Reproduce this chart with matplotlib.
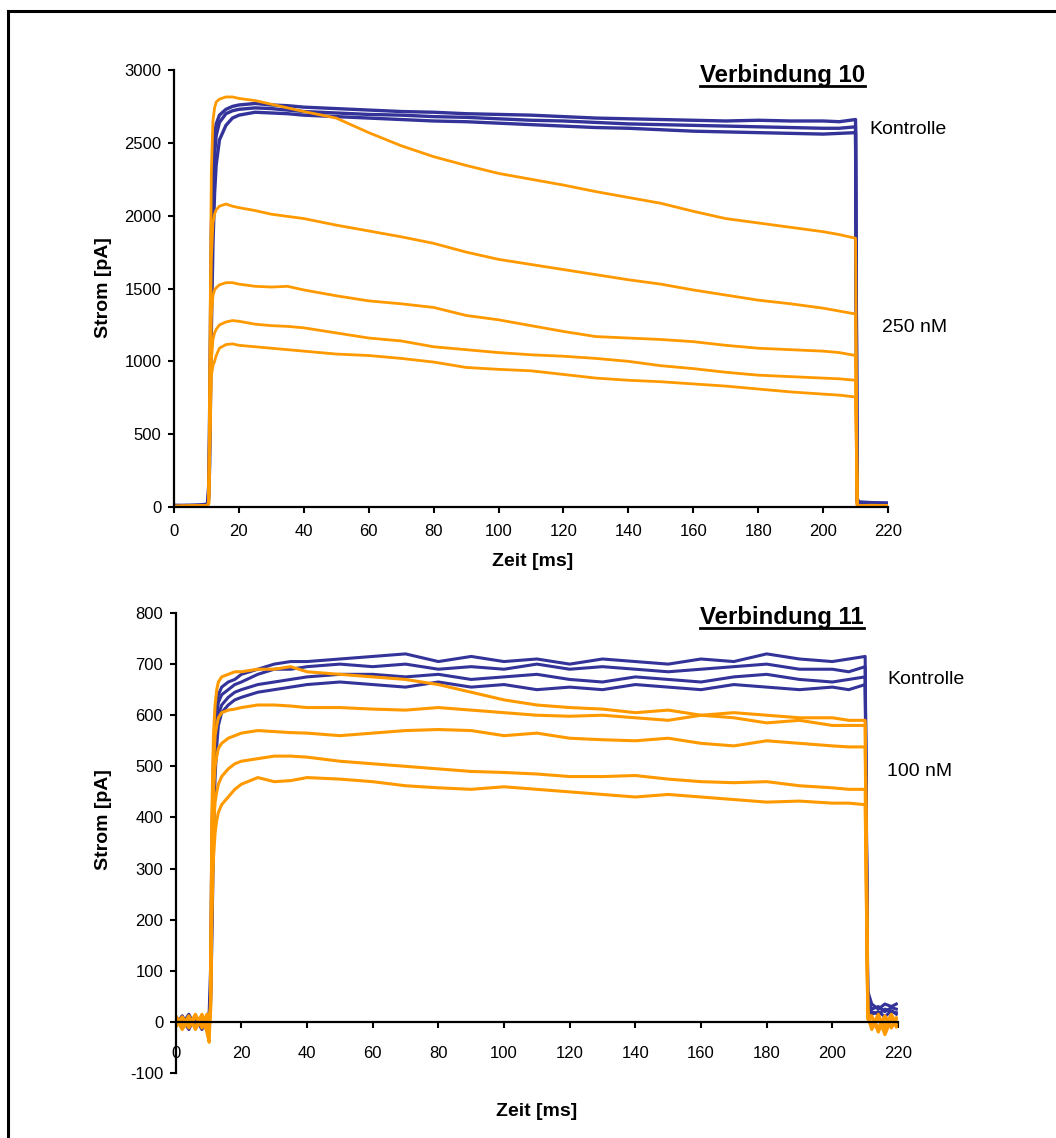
import matplotlib
matplotlib.use("Agg")
import matplotlib.pyplot as plt
from matplotlib.lines import Line2D

plt.rcParams["font.family"] = ["Liberation Sans", "DejaVu Sans"]
plt.rcParams["axes.unicode_minus"] = False

BLAU = "#333399"
ORANGE = "#FF9900"

# ---------------- Verbindung 10 (250 nM) ----------------
zeit_10 = [0, 4, 8, 10.3, 10.7, 11, 11.5, 12, 12.5, 13, 14, 16, 18, 20, 25, 30, 35, 40,
           50, 60, 70, 80, 90, 100, 110, 120, 130, 140, 150, 160, 170, 180, 190, 200,
           205, 210, 210.5, 211, 215, 220]

kontrolle_10 = [
    [12, 8, 14, 20, 150, 700, 1900, 2350, 2550, 2630, 2690, 2730, 2750, 2760, 2770, 2760,
     2755, 2745, 2735, 2725, 2715, 2710, 2700, 2695, 2690, 2680, 2670, 2665, 2660, 2655,
     2650, 2655, 2650, 2650, 2645, 2660, 60, 35, 30, 28],
    [10, 10, 12, 15, 100, 500, 1600, 2150, 2420, 2550, 2640, 2700, 2720, 2730, 2740, 2735,
     2725, 2715, 2705, 2695, 2690, 2680, 2675, 2665, 2655, 2650, 2640, 2630, 2625, 2620,
     2615, 2610, 2605, 2600, 2600, 2610, 40, 25, 22, 20],
    [8, 12, 10, 12, 60, 300, 1200, 1800, 2150, 2350, 2520, 2620, 2670, 2690, 2710, 2705,
     2700, 2690, 2680, 2670, 2660, 2650, 2645, 2635, 2625, 2615, 2605, 2600, 2590, 2580,
     2575, 2570, 2565, 2560, 2565, 2570, 30, 20, 18, 15],
]

substanz_10 = [
    [5, 8, 6, 8, 40, 900, 2300, 2650, 2740, 2780, 2800, 2815, 2815, 2805, 2790, 2765,
     2740, 2715, 2670, 2570, 2480, 2405, 2345, 2290, 2250, 2210, 2165, 2125, 2085, 2030,
     1980, 1950, 1920, 1890, 1870, 1845, 20, 10, 12, 10],
    [5, 6, 8, 8, 30, 700, 1700, 1950, 2010, 2040, 2065, 2080, 2065, 2055, 2035, 2010,
     1995, 1980, 1935, 1895, 1855, 1810, 1750, 1700, 1665, 1630, 1595, 1560, 1530, 1490,
     1455, 1420, 1395, 1365, 1345, 1325, 15, 10, 10, 8],
    [5, 6, 8, 8, 25, 500, 1300, 1450, 1490, 1505, 1525, 1540, 1540, 1530, 1515, 1510,
     1515, 1490, 1450, 1415, 1395, 1370, 1315, 1285, 1245, 1205, 1170, 1160, 1150, 1135,
     1110, 1090, 1080, 1070, 1060, 1040, 15, 10, 8, 8],
    [5, 6, 8, 8, 25, 400, 1000, 1150, 1195, 1220, 1250, 1270, 1280, 1275, 1255, 1245,
     1240, 1230, 1195, 1160, 1140, 1100, 1080, 1060, 1045, 1035, 1020, 1000, 970, 950,
     925, 905, 895, 885, 880, 870, 15, 10, 8, 8],
    [5, 6, 8, 8, 25, 350, 900, 970, 1000, 1040, 1090, 1115, 1120, 1110, 1100, 1090,
     1080, 1070, 1050, 1040, 1020, 995, 958, 945, 935, 910, 885, 870, 860, 845,
     830, 810, 790, 775, 768, 755, 15, 10, 8, 8],
]

# ---------------- Verbindung 11 (100 nM) ----------------
zeit_11 = [0, 2, 4, 6, 8, 9.5, 10.2, 10.6, 11, 11.5, 12, 12.5, 13, 14, 16, 18, 20, 25,
           30, 35, 40, 50, 60, 70, 80, 90, 100, 110, 120, 130, 140, 150, 160, 170, 180,
           190, 200, 205, 210, 210.8, 212, 214, 216, 218, 219.5]

kontrolle_11 = [
    [10, -5, 15, -10, 12, -5, 20, 100, 350, 520, 590, 620, 640, 655, 665, 670, 680, 690,
     700, 705, 705, 710, 715, 720, 705, 715, 705, 710, 700, 710, 705, 700, 710, 705, 720,
     710, 705, 710, 715, 60, 35, 25, 35, 30, 35],
    [-5, 12, -10, 8, -15, 10, 5, 60, 250, 450, 560, 600, 625, 640, 650, 660, 665, 680,
     690, 690, 695, 700, 695, 700, 690, 695, 690, 700, 690, 695, 690, 685, 690, 695, 700,
     690, 690, 685, 695, 40, 25, 30, 20, 28, 25],
    [5, -12, 10, -8, 5, -10, 15, 40, 200, 400, 520, 570, 600, 620, 635, 645, 650, 660,
     665, 670, 675, 680, 680, 675, 680, 670, 675, 680, 670, 665, 675, 670, 665, 675, 680,
     670, 665, 670, 675, 30, 20, 15, 25, 20, 18],
    [-8, 5, -15, 12, -5, 8, 10, 30, 150, 350, 480, 540, 580, 605, 620, 630, 635, 645,
     650, 655, 660, 665, 660, 655, 665, 655, 660, 650, 655, 650, 660, 655, 650, 660, 655,
     650, 655, 650, 660, 25, 15, 20, 10, 22, 15],
]

substanz_11 = [
    [5, -10, 12, -15, 10, -20, -40, 40, 400, 560, 620, 650, 665, 675, 680, 685, 685, 690,
     690, 695, 685, 680, 675, 670, 660, 645, 630, 620, 615, 612, 605, 610, 600, 605, 600,
     595, 595, 590, 590, 20, -10, 15, -15, 10, 0],
    [-10, 8, -12, 10, -8, 15, -20, 30, 350, 500, 560, 580, 595, 605, 610, 612, 615, 620,
     620, 618, 615, 615, 612, 610, 615, 610, 605, 600, 598, 600, 595, 590, 600, 595, 585,
     590, 580, 580, 580, 15, 10, -12, 12, -10, 5],
    [8, -15, 5, -10, 15, -12, 10, 25, 300, 450, 500, 520, 535, 545, 555, 560, 565, 570,
     568, 566, 565, 560, 565, 570, 572, 570, 560, 565, 555, 552, 550, 555, 545, 540, 550,
     545, 540, 538, 538, 10, -15, 8, -8, 15, -5],
    [-5, 10, -8, 15, -12, 5, -15, 20, 250, 380, 430, 450, 465, 480, 495, 505, 510, 515,
     520, 520, 518, 510, 505, 500, 495, 490, 488, 485, 480, 480, 482, 475, 470, 468, 470,
     462, 458, 455, 455, 5, 12, -20, 10, -12, 8],
    [12, -8, 10, -12, 8, -15, 5, 15, 200, 320, 370, 395, 410, 425, 440, 455, 465, 478,
     470, 472, 478, 475, 470, 462, 458, 455, 460, 455, 450, 445, 440, 445, 440, 435, 430,
     432, 428, 428, 425, 10, -8, 10, -25, 5, -10],
]


def achsen_stil(ax, y_ticks, x_pad):
    """Excel-artige Achsen: nur links und unten, Striche nach aussen."""
    ax.spines["top"].set_visible(False)
    ax.spines["right"].set_visible(False)
    ax.spines["left"].set_linewidth(1.6)
    ax.spines["bottom"].set_linewidth(1.6)
    ax.set_xlim(0, 220)
    ax.set_xticks(range(0, 221, 20))
    ax.set_yticks(y_ticks)
    ax.set_ylim(y_ticks[0], y_ticks[-1])
    ax.tick_params(axis="both", direction="out", length=4, width=1.5, labelsize=12)
    ax.tick_params(axis="x", pad=x_pad)
    ax.tick_params(axis="y", pad=5)


def titel_unterstrichen(fig, x, y, text):
    txt = fig.text(x, y, text, fontsize=17.3, fontweight="bold", ha="left", va="baseline")
    fig.canvas.draw()
    bb = txt.get_window_extent()
    inv = fig.transFigure.inverted()
    x0 = inv.transform((bb.x0, 0))[0]
    x1 = inv.transform((bb.x1, 0))[0]
    y_line = y - 3.5 / 1138
    fig.add_artist(Line2D([x0, x1], [y_line, y_line], transform=fig.transFigure,
                          color="black", lw=2.0))


fig = plt.figure(figsize=(10.56, 11.38), dpi=100)
W, H = 1056, 1138

# oberes Diagramm
ax1 = fig.add_axes([174 / W, 1 - 507 / H, 714 / W, 437 / H])
for spur in kontrolle_10:
    ax1.plot(zeit_10, spur, color=BLAU, lw=2.4)
for spur in substanz_10:
    ax1.plot(zeit_10, spur, color=ORANGE, lw=2.0)
achsen_stil(ax1, list(range(0, 3001, 500)), 8)

# unteres Diagramm
ax2 = fig.add_axes([175.7 / W, 1 - 1073 / H, 722.3 / W, 460 / H])
for spur in kontrolle_11:
    ax2.plot(zeit_11, spur, color=BLAU, lw=2.2)
for spur in substanz_11:
    ax2.plot(zeit_11, spur, color=ORANGE, lw=2.2)
achsen_stil(ax2, list(range(-100, 801, 100)), 13)
ax2.spines["bottom"].set_position(("data", 0))

# Achsenbeschriftungen
fig.text(103 / W, 1 - 288 / H, "Strom [pA]", rotation=90, fontsize=14,
         fontweight="bold", ha="center", va="center")
fig.text(104 / W, 1 - 820 / H, "Strom [pA]", rotation=90, fontsize=14,
         fontweight="bold", ha="center", va="center")
fig.text(533 / W, 1 - 562 / H, "Zeit [ms]", fontsize=14, fontweight="bold",
         ha="center", va="center")
fig.text(537 / W, 1 - 1112 / H, "Zeit [ms]", fontsize=14, fontweight="bold",
         ha="center", va="center")

# Beschriftungen der Spuren
fig.text(869 / W, 1 - 130 / H, "Kontrolle", fontsize=14, ha="left", va="center")
fig.text(882 / W, 1 - 327 / H, "250 nM", fontsize=14, ha="left", va="center")
fig.text(887 / W, 1 - 680 / H, "Kontrolle", fontsize=14, ha="left", va="center")
fig.text(887 / W, 1 - 772 / H, "100 nM", fontsize=14, ha="left", va="center")

titel_unterstrichen(fig, 700 / W, 1 - 82 / H, "Verbindung 10")
titel_unterstrichen(fig, 700 / W, 1 - 624 / H, "Verbindung 11")

# Rahmen (oben und links)
fig.add_artist(Line2D([8 / W, 1], [1 - 11 / H, 1 - 11 / H], transform=fig.transFigure,
                      color="black", lw=2.2))
fig.add_artist(Line2D([8 / W, 8 / W], [0, 1 - 11 / H], transform=fig.transFigure,
                      color="black", lw=2.2))

fig.savefig("out.png", dpi=100)
plt.close(fig)
